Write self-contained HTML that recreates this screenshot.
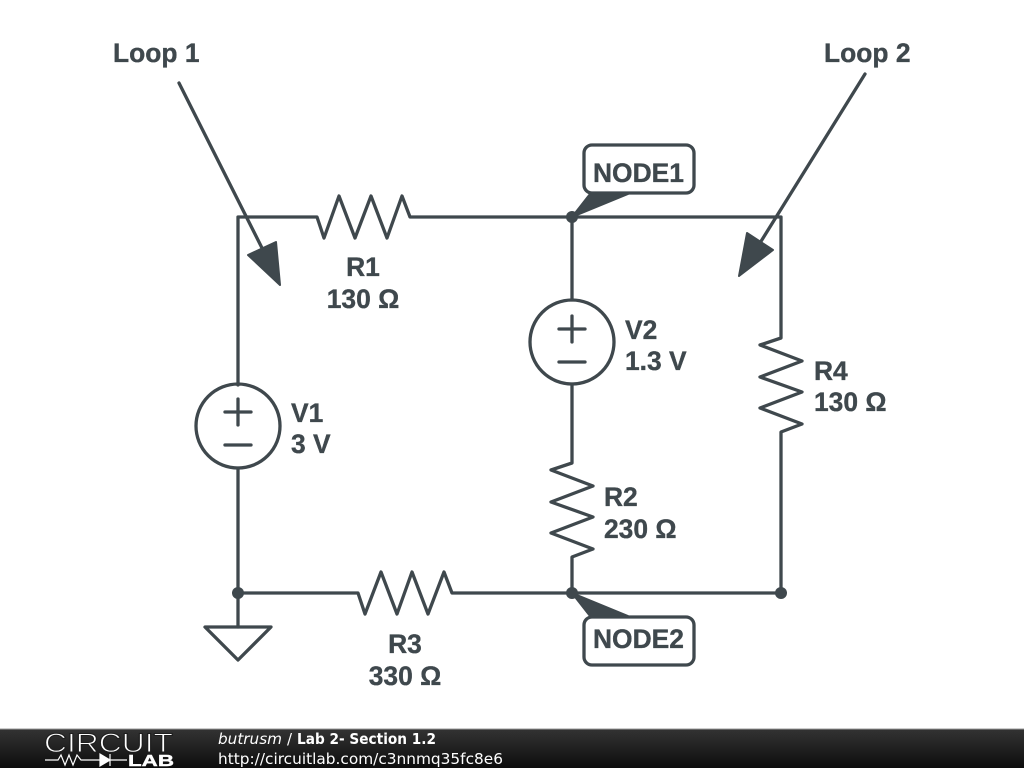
<!DOCTYPE html>
<html><head><meta charset="utf-8"><style>
html,body{margin:0;padding:0;background:#fff}
svg{display:block}
.t{font-family:"Liberation Sans",sans-serif;font-weight:bold;font-size:26.4px;fill:#3f484d;stroke:#3f484d;stroke-width:.35px}
.f{font-family:"DejaVu Sans",sans-serif;font-size:15px;fill:#fff}
</style></head><body>
<svg width="1024" height="768" viewBox="0 0 1024 768" xmlns="http://www.w3.org/2000/svg">
<defs><linearGradient id="g" x1="0" y1="0" x2="0" y2="1"><stop offset="0" stop-color="#333"/><stop offset="1" stop-color="#0d0d0d"/></linearGradient></defs>
<rect width="1024" height="768" fill="#fff"/>
<g fill="none" stroke="#3f484d" stroke-width="3.3" stroke-linejoin="round" stroke-linecap="round">
<!-- wires -->
<path d="M238 385V217H317L324 238L339 196L355 238L371 196L387 238L402 196L410 217H781V338L760 345L802 361L760 377L802 392L760 408L802 424L781 432V593H572"/>
<path d="M572 217V300M572 384V463L551 470L593 486L551 502L593 517L551 533L593 549L572 557V593"/>
<path d="M238 468V627M238 593H358L365 614L381 572L397 614L412 572L428 614L444 572L452 593H572"/>
<!-- sources -->
<circle cx="238" cy="426" r="42"/>
<circle cx="572" cy="342" r="42"/>
<path d="M225 412H251M238 399V425M225 445H251"/>
<path d="M559 329H585M572 316V342M559 362H585"/>
<!-- ground -->
<path d="M205 627H271L238 660Z"/>
<!-- loop arrows -->
<path d="M179 83L263 250M865 74L760 243"/>
</g>
<g fill="#3f484d" stroke="#3f484d" stroke-width="2" stroke-linejoin="round">
<path d="M248 255L276 242L280 285Z"/>
<path d="M739 276L747 233L773 250Z"/>
<path d="M572 217L590 194H628Z"/>
<path d="M572 593L590 616H628Z"/>
</g>
<g fill="#3f484d"><circle cx="572" cy="217" r="6"/><circle cx="238" cy="593" r="6"/><circle cx="572" cy="593" r="6"/><circle cx="781" cy="593" r="6"/></g>
<g fill="#fff" stroke="#3f484d" stroke-width="3.3">
<rect x="584" y="145" width="110" height="48" rx="8"/>
<rect x="584" y="617" width="110" height="48" rx="8"/>
</g>
<g>
<text class="t" x="113" y="62">Loop 1</text>
<text class="t" x="824" y="62">Loop 2</text>
<text class="t" x="593" y="182">NODE1</text>
<text class="t" x="593" y="648">NODE2</text>
<text class="t" x="363" y="276" text-anchor="middle">R1</text>
<text class="t" x="363" y="308" text-anchor="middle">130 Ω</text>
<text class="t" x="405" y="653" text-anchor="middle">R3</text>
<text class="t" x="405" y="685" text-anchor="middle">330 Ω</text>
<text class="t" x="291" y="422">V1</text>
<text class="t" x="291" y="453">3 V</text>
<text class="t" x="625" y="339">V2</text>
<text class="t" x="625" y="370">1.3 V</text>
<text class="t" x="604" y="506">R2</text>
<text class="t" x="604" y="538">230 Ω</text>
<text class="t" x="814" y="380">R4</text>
<text class="t" x="814" y="411">130 Ω</text>
</g>
<!-- footer -->
<rect y="729" width="1024" height="39" fill="url(#g)"/>
<rect y="728.5" width="1024" height="1" fill="#999"/>
<text x="44" y="752" font-family="Liberation Sans,sans-serif" font-size="26.5" textLength="129" lengthAdjust="spacingAndGlyphs" fill="#fff" stroke="#1e1e1e" stroke-width="1">CIRCUIT</text>
<path d="M45 760H58L61 755L65 765L69 755L73 765L77 755L81 760H100M110 760H127" fill="none" stroke="#fff" stroke-width="1.2"/>
<path d="M100 754V766L110 760ZM110 754V766" fill="#fff" stroke="#fff" stroke-width="1.2"/>
<text x="128" y="766" font-family="Liberation Sans,sans-serif" font-weight="bold" font-size="16" textLength="46" lengthAdjust="spacingAndGlyphs" fill="#fff" stroke="#fff" stroke-width=".4">LAB</text>
<text class="f" x="218" y="744" font-style="italic" textLength="64" lengthAdjust="spacingAndGlyphs">butrusm</text>
<text class="f" x="287" y="744">/</text>
<text class="f" x="297" y="744" font-weight="bold" textLength="139" lengthAdjust="spacingAndGlyphs">Lab 2- Section 1.2</text>
<text class="f" x="218" y="764" textLength="285" lengthAdjust="spacingAndGlyphs">http://circuitlab.com/c3nnmq35fc8e6</text>
</svg>
</body></html>
